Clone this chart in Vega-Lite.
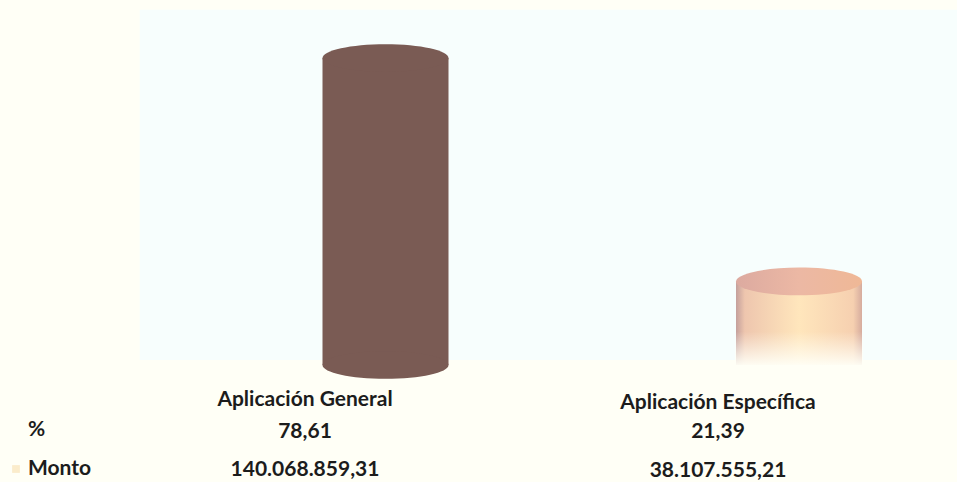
{
"$schema":"https://vega.github.io/schema/vega-lite/v6.json",
"width":957,"height":482,
"autosize":{"type":"fit","contains":"padding"},
"padding":0,
"background":"#fffff6",
"config":{"view":{"stroke":null},"text":{"font":"Lato","fontWeight":700,"fontSize":21,"color":"#1c1c1c"}},
"datasets":{
"bars":[{"categoria":"Aplicación General","pct":78.61,"base":0},{"categoria":"Aplicación Específica","pct":21.39,"base":0}],
"panel":[{"x0":0.146,"x1":1,"y0":1.3,"y1":91}],
"tabla":[
{"categoria":"Aplicación General","fila":"nombre","texto":"Aplicación General"},
{"categoria":"Aplicación General","fila":"%","texto":"78,61"},
{"categoria":"Aplicación General","fila":"Monto","texto":"140.068.859,31"},
{"categoria":"Aplicación Específica","fila":"nombre","texto":"Aplicación Específica"},
{"categoria":"Aplicación Específica","fila":"%","texto":"21,39"},
{"categoria":"Aplicación Específica","fila":"Monto","texto":"38.107.555,21"}
],
"filas":[{"fila":"%"},{"fila":"Monto"}]
},
"layer":[
{"data":{"name":"panel"},
 "mark":{"type":"rect","fill":"#f7fefd"},
 "encoding":{
  "x":{"field":"x0","type":"quantitative","axis":null,"scale":{"domain":[0,1],"nice":false,"zero":false}},
  "x2":{"field":"x1"},
  "y":{"field":"y0","type":"quantitative","axis":null,"scale":{"domain":[-29.96,93.47],"nice":false,"zero":false}},
  "y2":{"field":"y1"}}},
{"data":{"name":"bars"},
 "transform":[{"filter":"datum.pct > 50"}],
 "mark":{"type":"bar","size":126,"fill":"#7a5b54"},
 "encoding":{
  "x":{"field":"categoria","type":"nominal","axis":null,"scale":{"type":"point","domain":["Aplicación General","Aplicación Específica"],"range":[385.5,799],"padding":0}},
  "y":{"field":"pct","type":"quantitative","axis":null,"scale":{"domain":[-29.96,93.47],"nice":false,"zero":false}},
  "y2":{"field":"base"}}},
{"data":{"name":"bars"},
 "transform":[{"filter":"datum.pct > 50"}],
 "mark":{"type":"point","filled":true,"opacity":1,"size":15876,"fill":"#7a5b54","shape":"M-1,0A1,0.22,0,1,1,1,0A1,0.22,0,1,1,-1,0Z"},
 "encoding":{
  "x":{"field":"categoria","type":"nominal","axis":null,"scale":{"type":"point","domain":["Aplicación General","Aplicación Específica"],"range":[385.5,799],"padding":0}},
  "y":{"field":"pct","type":"quantitative","axis":null,"scale":{"domain":[-29.96,93.47],"nice":false,"zero":false}}}},
{"data":{"name":"bars"},
 "transform":[{"filter":"datum.pct > 50"}],
 "mark":{"type":"point","filled":true,"opacity":1,"size":15876,"fill":"#7a5b54","shape":"M-1,0A1,0.22,0,1,1,1,0A1,0.22,0,1,1,-1,0Z"},
 "encoding":{
  "x":{"field":"categoria","type":"nominal","axis":null,"scale":{"type":"point","domain":["Aplicación General","Aplicación Específica"],"range":[385.5,799],"padding":0}},
  "y":{"field":"base","type":"quantitative","axis":null,"scale":{"domain":[-29.96,93.47],"nice":false,"zero":false}}}},
{"data":{"name":"bars"},
 "transform":[{"filter":"datum.pct < 50"}],
 "mark":{"type":"bar","size":126,"fill":{"gradient":"linear","x1":0,"y1":0,"x2":1,"y2":0,"stops":[{"offset":0,"color":"#c4a09c"},{"offset":0.07,"color":"#eec6ae"},{"offset":0.5,"color":"#ffe6bc"},{"offset":0.93,"color":"#f6d0b0"},{"offset":1,"color":"#d6ac9e"}]}},
 "encoding":{
  "x":{"field":"categoria","type":"nominal","axis":null,"scale":{"type":"point","domain":["Aplicación General","Aplicación Específica"],"range":[385.5,799],"padding":0}},
  "y":{"field":"pct","type":"quantitative","axis":null,"scale":{"domain":[-29.96,93.47],"nice":false,"zero":false}},
  "y2":{"field":"base"}}},
{"data":{"name":"bars"},
 "transform":[{"filter":"datum.pct < 50"}],
 "mark":{"type":"bar","size":128,"fill":{"gradient":"linear","x1":0,"y1":0,"x2":0,"y2":1,"stops":[{"offset":0,"color":"rgba(255,255,246,0)"},{"offset":0.6,"color":"rgba(255,255,246,0)"},{"offset":0.85,"color":"rgba(255,255,246,0.6)"},{"offset":1,"color":"rgba(255,255,246,0.95)"}]}},
 "encoding":{
  "x":{"field":"categoria","type":"nominal","axis":null,"scale":{"type":"point","domain":["Aplicación General","Aplicación Específica"],"range":[385.5,799],"padding":0}},
  "y":{"field":"pct","type":"quantitative","axis":null,"scale":{"domain":[-29.96,93.47],"nice":false,"zero":false}},
  "y2":{"field":"base"}}},
{"data":{"name":"bars"},
 "transform":[{"filter":"datum.pct < 50"}],
 "mark":{"type":"point","filled":true,"opacity":1,"size":15876,"fill":{"gradient":"linear","x1":0,"y1":0,"x2":1,"y2":0,"stops":[{"offset":0,"color":"#dcaaa0"},{"offset":0.5,"color":"#ecb8a4"},{"offset":1,"color":"#efb896"}]},"shape":"M-1,0A1,0.22,0,1,1,1,0A1,0.22,0,1,1,-1,0Z"},
 "encoding":{
  "x":{"field":"categoria","type":"nominal","axis":null,"scale":{"type":"point","domain":["Aplicación General","Aplicación Específica"],"range":[385.5,799],"padding":0}},
  "y":{"field":"pct","type":"quantitative","axis":null,"scale":{"domain":[-29.96,93.47],"nice":false,"zero":false}}}},
{"data":{"name":"tabla"},
 "transform":[{"filter":"datum.categoria == 'Aplicación General' && datum.fila != '%'"}],
 "mark":{"type":"text","align":"center","baseline":"middle"},
 "encoding":{
  "x":{"field":"categoria","type":"nominal","axis":null,"scale":{"type":"point","domain":["Aplicación General","Aplicación Específica"],"range":[305,718],"padding":0}},
  "y":{"field":"fila","type":"nominal","axis":null,"scale":{"type":"point","domain":["nombre","%","Monto"],"range":[400,470],"padding":0}},
  "text":{"field":"texto"}}},
{"data":{"name":"tabla"},
 "transform":[{"filter":"datum.categoria == 'Aplicación General' && datum.fila == '%'"}],
 "mark":{"type":"text","align":"center","baseline":"middle","dy":-3},
 "encoding":{
  "x":{"field":"categoria","type":"nominal","axis":null,"scale":{"type":"point","domain":["Aplicación General","Aplicación Específica"],"range":[305,718],"padding":0}},
  "y":{"field":"fila","type":"nominal","axis":null,"scale":{"type":"point","domain":["nombre","%","Monto"],"range":[400,470],"padding":0}},
  "text":{"field":"texto"}}},
{"data":{"name":"tabla"},
 "transform":[{"filter":"datum.categoria == 'Aplicación Específica' && datum.fila != '%'"}],
 "mark":{"type":"text","align":"center","baseline":"middle"},
 "encoding":{
  "x":{"field":"categoria","type":"nominal","axis":null,"scale":{"type":"point","domain":["Aplicación General","Aplicación Específica"],"range":[305,718],"padding":0}},
  "y":{"field":"fila","type":"nominal","axis":null,"scale":{"type":"point","domain":["nombre","%","Monto"],"range":[403,471],"padding":0}},
  "text":{"field":"texto"}}},
{"data":{"name":"tabla"},
 "transform":[{"filter":"datum.categoria == 'Aplicación Específica' && datum.fila == '%'"}],
 "mark":{"type":"text","align":"center","baseline":"middle","dy":-5},
 "encoding":{
  "x":{"field":"categoria","type":"nominal","axis":null,"scale":{"type":"point","domain":["Aplicación General","Aplicación Específica"],"range":[305,718],"padding":0}},
  "y":{"field":"fila","type":"nominal","axis":null,"scale":{"type":"point","domain":["nombre","%","Monto"],"range":[403,471],"padding":0}},
  "text":{"field":"texto"}}},
{"data":{"name":"filas"},
 "mark":{"type":"text","align":"left","baseline":"middle","x":28},
 "encoding":{
  "y":{"field":"fila","type":"nominal","axis":null,"scale":{"type":"point","domain":["%","Monto"],"range":[430,469],"padding":0}},
  "text":{"field":"fila"}}},
{"data":{"name":"filas"},
 "transform":[{"filter":"datum.fila == 'Monto'"}],
 "mark":{"type":"square","size":60,"x":16,"fill":"#fbeccb","opacity":1},
 "encoding":{
  "y":{"field":"fila","type":"nominal","axis":null,"scale":{"type":"point","domain":["%","Monto"],"range":[430,469],"padding":0}}}}
],
"resolve":{"scale":{"x":"independent","y":"independent"}}
}
